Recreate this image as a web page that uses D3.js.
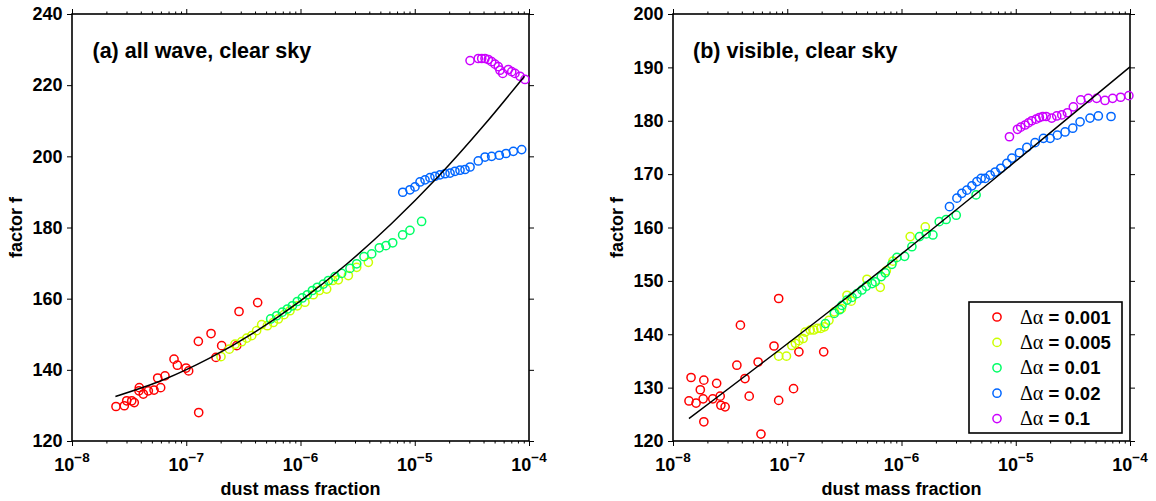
<!DOCTYPE html>
<html><head><meta charset="utf-8">
<script src="https://cdn.jsdelivr.net/npm/d3@7"></script>
<style>body{margin:0;background:#fff}svg{display:block}</style>
</head><body><svg id="c" width="1156" height="501"></svg>
<script>
// ---------- data (x values are log10 of dust mass fraction) ----------
const seriesLabels = ["0.001", "0.005", "0.01", "0.02", "0.1"];
const seriesColors = ["#ff0000", "#ccff00", "#00ff66", "#0066ff", "#cc00ff"];
const xTickExponents = [-8, -7, -6, -5, -4];
const aYTicks = [120, 140, 160, 180, 200, 220, 240];
const bYTicks = [120, 130, 140, 150, 160, 170, 180, 190, 200];

// panel (a) all wave, clear sky
const aRedLogX = [-7.615,-7.542,-7.521,-7.477,-7.455,-7.411,-7.414,-7.376,-7.332,-7.282,-7.250,-7.224,-7.186,-7.107,-7.078,-7.002,-6.979,-6.894,-6.891,-6.783,-6.740,-6.690,-6.558,-6.538,-6.375];
const aRedF    = [129.7,129.9,131.3,131.3,130.8,135.0,134.1,133.2,134.1,134.3,137.7,135.0,138.3,143.0,141.3,140.5,139.7,148.0,128.0,150.2,143.5,146.8,146.8,156.4,158.9];
const aYelLogX = [-6.696,-6.623,-6.573,-6.515,-6.471,-6.427,-6.384,-6.340,-6.290,-6.238,-6.194,-6.144,-6.092,-6.028,-5.961,-5.888,-5.835,-5.771,-5.718,-5.669,-5.581,-5.508,-5.406];
const aYelF    = [143.7,145.8,147.2,147.9,148.9,149.6,151.0,152.7,152.4,153.3,154.3,155.5,156.6,158.0,159.0,161.1,162.3,162.7,165.1,165.3,166.5,168.8,170.2];
const aGrnLogX = [-6.261,-6.209,-6.159,-6.115,-6.071,-6.028,-5.984,-5.940,-5.896,-5.853,-5.800,-5.756,-5.698,-5.640,-5.567,-5.508,-5.444,-5.377,-5.310,-5.252,-5.193,-5.106,-5.042,-4.940];
const aGrnF    = [154.3,155.2,156.2,157.1,158.0,159.2,160.2,161.1,162.3,163.2,164.1,165.1,166.2,167.1,168.5,169.8,171.8,172.6,174.3,174.9,175.7,177.9,179.2,181.7];
const aBluLogX = [-5.105,-5.042,-4.998,-4.954,-4.910,-4.867,-4.823,-4.779,-4.735,-4.691,-4.648,-4.604,-4.560,-4.516,-4.444,-4.385,-4.327,-4.260,-4.201,-4.137,-4.064];
const aBluF    = [189.9,190.6,191.4,192.8,193.4,194.0,194.4,194.8,195.1,195.3,195.8,196.1,196.3,197.0,198.7,199.8,200.0,200.3,200.8,201.4,201.9];
const aMagLogX = [-4.516,-4.444,-4.414,-4.385,-4.356,-4.327,-4.298,-4.269,-4.254,-4.230,-4.181,-4.151,-4.123,-4.079,-4.035];
const aMagF    = [226.9,227.5,227.5,227.5,227.2,226.6,225.9,225.2,224.2,223.3,224.4,223.8,223.3,222.5,221.6];
const aFitLogX = [-7.62,-7.2,-6.8,-6.4,-6.0,-5.6,-5.2,-4.8,-4.4,-4.04];
const aFitF    = [132.5,137.2,143.2,150.6,159.4,169.6,181.2,194.1,208.5,222.5];

// panel (b) visible, clear sky
const bRedLogX = [-7.860,-7.842,-7.798,-7.761,-7.736,-7.730,-7.730,-7.652,-7.618,-7.587,-7.581,-7.544,-7.441,-7.410,-7.370,-7.333,-7.255,-7.230,-7.116,-7.075,-7.075,-6.945,-6.898,-6.681];
const bRedF    = [127.5,131.9,127.1,129.6,127.9,131.4,123.6,127.9,130.8,128.4,126.7,126.4,134.2,141.7,131.7,128.4,134.8,121.3,137.8,146.7,127.6,129.8,136.7,136.7];
const bYelLogX = [-7.075,-7.007,-6.960,-6.929,-6.898,-6.861,-6.843,-6.799,-6.768,-6.737,-6.706,-6.675,-6.635,-6.588,-6.526,-6.477,-6.440,-6.302,-6.186,-6.133,-6.075,-5.924,-5.792];
const bYelF    = [135.9,135.9,137.9,138.3,138.8,139.2,140.4,140.8,140.8,141.1,141.1,141.4,142.6,144.2,144.8,147.3,146.2,150.3,148.8,151.9,153.7,158.3,160.1];
const bGrnLogX = [-6.666,-6.588,-6.542,-6.521,-6.477,-6.433,-6.390,-6.346,-6.308,-6.258,-6.230,-6.177,-6.142,-6.084,-6.040,-5.973,-5.909,-5.842,-5.784,-5.725,-5.670,-5.609,-5.521,-5.347];
const bGrnF    = [142.0,143.9,144.6,145.4,146.4,146.9,147.6,148.3,149.0,149.5,149.8,150.8,151.5,153.1,154.4,154.6,156.4,158.3,158.8,158.6,161.1,161.5,162.3,166.1];
const bBluLogX = [-5.580,-5.515,-5.472,-5.428,-5.384,-5.340,-5.303,-5.268,-5.224,-5.180,-5.131,-5.078,-5.034,-4.968,-4.903,-4.831,-4.758,-4.699,-4.636,-4.568,-4.501,-4.437,-4.350,-4.277,-4.166];
const bBluF    = [163.9,165.5,166.4,167.0,167.8,168.6,169.2,169.2,169.8,170.4,171.1,172.0,173.0,174.0,175.0,175.9,176.7,176.7,177.3,177.9,178.6,179.8,180.5,180.9,180.8];
const bMagLogX = [-5.055,-4.985,-4.956,-4.918,-4.889,-4.860,-4.822,-4.793,-4.763,-4.734,-4.685,-4.641,-4.597,-4.548,-4.496,-4.431,-4.365,-4.292,-4.219,-4.152,-4.082,-4.010];
const bMagF    = [177.0,178.4,178.8,179.2,179.6,180.0,180.3,180.6,180.8,180.8,180.5,180.9,181.1,181.5,182.6,183.9,184.2,184.2,183.8,184.2,184.4,184.7];
const bFitLogX = [-7.86,-6.62,-5.2,-4.0];
const bFitF    = [124.2,144.5,168.9,190.1];

// ---------- drawing ----------
const FONT = "'Liberation Sans', Arial, Helvetica, sans-serif";
const svg = d3.select("#c");
const W = 457, H = 427;
const R = 4.1, SW = 1.5;

function zip(xs, ys) { return xs.map((e, i) => ({x: Math.pow(10, e), y: ys[i]})); }

function drawPanel(opt) {
  const g = svg.append("g").attr("transform", `translate(${opt.left},14)`);
  const x = d3.scaleLog().domain([1e-8, 1e-4]).range([0, W]);
  const y = d3.scaleLinear().domain([opt.yTicks[0], opt.yTicks[opt.yTicks.length - 1]]).range([H, 0]);

  const majors = xTickExponents.map(e => Math.pow(10, e));
  const minors = [];
  for (let e = -8; e < -4; e++) for (let k = 2; k <= 9; k++) minors.push(k * Math.pow(10, e));

  const styleAxis = sel => { sel.select(".domain").remove(); sel.selectAll("line").attr("stroke", "#000").attr("stroke-width", 1); };
  g.append("g").attr("transform", `translate(0,${H})`).call(d3.axisBottom(x).tickValues(majors).tickSize(5).tickFormat("")).call(styleAxis);
  g.append("g").attr("transform", `translate(0,${H})`).call(d3.axisBottom(x).tickValues(minors).tickSize(2.5).tickFormat("")).call(styleAxis);
  g.append("g").call(d3.axisTop(x).tickValues(majors).tickSize(5).tickFormat("")).call(styleAxis);
  g.append("g").call(d3.axisTop(x).tickValues(minors).tickSize(2.5).tickFormat("")).call(styleAxis);
  const la = g.append("g").call(d3.axisLeft(y).tickValues(opt.yTicks).tickSize(5).tickPadding(4.5).tickFormat(d3.format("d"))).call(styleAxis);
  la.selectAll("text").attr("font-family", FONT).attr("font-weight", "bold").attr("font-size", "18px").attr("fill", "#000");
  g.append("g").attr("transform", `translate(${W},0)`).call(d3.axisRight(y).tickValues(opt.yTicks).tickSize(5).tickFormat("")).call(styleAxis);

  // x tick labels 10^n
  xTickExponents.forEach(e => {
    const t = g.append("text").attr("x", x(Math.pow(10, e))).attr("y", H + 30)
      .attr("text-anchor", "middle").attr("font-family", FONT).attr("font-weight", "bold").attr("font-size", "18px");
    t.append("tspan").text("10");
    t.append("tspan").attr("dy", -9).attr("font-size", "13.5px").text("\u2212" + Math.abs(e));
  });

  // frame
  g.append("rect").attr("x", 0).attr("y", 0).attr("width", W).attr("height", H)
    .attr("fill", "none").attr("stroke", "#000").attr("stroke-width", 1.6);

  // points
  opt.series.forEach((s, i) => {
    g.append("g").selectAll("circle").data(zip(s[0], s[1])).join("circle")
      .attr("cx", d => x(d.x)).attr("cy", d => y(d.y)).attr("r", R)
      .attr("fill", "none").attr("stroke", seriesColors[i]).attr("stroke-width", SW);
  });

  // fit line
  g.append("path").datum(zip(opt.fit[0], opt.fit[1]))
    .attr("d", d3.line().x(d => x(d.x)).y(d => y(d.y)).curve(d3.curveMonotoneX))
    .attr("fill", "none").attr("stroke", "#000").attr("stroke-width", 1.5);

  // labels
  g.append("text").attr("x", opt.titleX).attr("y", 44).attr("font-family", FONT).attr("font-weight", "bold")
    .attr("font-size", "21.5px").text(opt.title);
  g.append("text").attr("x", W / 2).attr("y", H + 54).attr("text-anchor", "middle").attr("font-family", FONT)
    .attr("font-weight", "bold").attr("font-size", "18px").text("dust mass fraction");
  g.append("text").attr("transform", `translate(-50,${H / 2}) rotate(-90)`).attr("text-anchor", "middle")
    .attr("font-family", FONT).attr("font-weight", "bold").attr("font-size", "18px").text("factor f");
  return {g, x, y};
}

drawPanel({
  left: 72, yTicks: aYTicks, title: "(a) all wave, clear sky", titleX: 20.5,
  series: [[aRedLogX, aRedF], [aYelLogX, aYelF], [aGrnLogX, aGrnF], [aBluLogX, aBluF], [aMagLogX, aMagF]],
  fit: [aFitLogX, aFitF]
});
drawPanel({
  left: 673, yTicks: bYTicks, title: "(b) visible, clear sky", titleX: 20,
  series: [[bRedLogX, bRedF], [bYelLogX, bYelF], [bGrnLogX, bGrnF], [bBluLogX, bBluF], [bMagLogX, bMagF]],
  fit: [bFitLogX, bFitF]
});

// legend
const lg = svg.append("g").attr("transform", "translate(969,302)");
lg.append("rect").attr("width", 153).attr("height", 131).attr("fill", "#fff").attr("stroke", "#000").attr("stroke-width", 1.6);
seriesLabels.forEach((lab, i) => {
  const cy = 15 + i * 25.4;
  lg.append("circle").attr("cx", 28).attr("cy", cy).attr("r", R).attr("fill", "none")
    .attr("stroke", seriesColors[i]).attr("stroke-width", SW);
  const t = lg.append("text").attr("x", 51).attr("y", cy + 6.5).attr("font-size", "18.5px");
  t.append("tspan").attr("font-family", "'Liberation Serif', 'Times New Roman', serif").attr("font-size", "20px").text("\u0394\u03b1");
  t.append("tspan").attr("font-family", FONT).attr("font-weight", "bold").text(" = " + lab);
});
</script></body></html>
